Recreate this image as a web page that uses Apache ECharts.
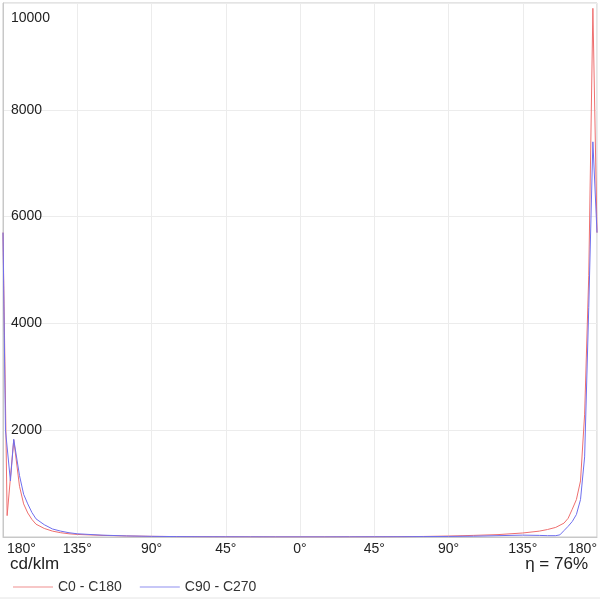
<!DOCTYPE html>
<html>
<head>
<meta charset="utf-8">
<script src="https://cdn.jsdelivr.net/npm/echarts@6/dist/echarts.min.js"></script>
<style>
  html, body { margin: 0; padding: 0; background: #fff; }
  #main { width: 600px; height: 600px; }
</style>
</head>
<body>
<div id="main"></div>
<script>
// angles (gamma, deg) and intensities (cd/klm)
const redAngles = [-180, -177.5, -173.5, -170, -167.5, -165, -162.5, -160, -155, -150, -145, -140, -135, -120, -105, -90, -75, -60, -45, -30, -15, 0, 15, 30, 45, 60, 75, 90, 105, 120, 135, 145, 150, 155, 160, 162.5, 165, 167.5, 170, 172.5, 175, 177.5, 180];
const redValues = [5700, 400, 1820, 950, 620, 450, 330, 240, 160, 110, 80, 60, 48, 30, 20, 12, 8, 5, 4, 3, 2, 2, 2, 3, 4, 6, 10, 18, 30, 45, 75, 110, 140, 180, 260, 350, 520, 700, 1050, 2300, 4900, 9900, 5700];

const blueAngles = [-180, -178.5, -175.5, -173.5, -170, -167.5, -165, -162.5, -160, -155, -150, -145, -140, -135, -120, -105, -90, -75, -60, -45, -30, -15, 0, 15, 30, 45, 60, 75, 90, 105, 120, 135, 145, 150, 155, 157.5, 160, 162.5, 165, 167.5, 170, 172.5, 175, 177.5, 180];
const blueValues = [5700, 2000, 1050, 1830, 1150, 800, 620, 460, 340, 230, 150, 110, 80, 60, 35, 20, 12, 8, 5, 4, 3, 2, 2, 2, 3, 4, 5, 8, 10, 15, 25, 35, 30, 25, 25, 40, 120, 200, 290, 420, 700, 1500, 4300, 7400, 5700];

const seriesNames = ['C0 - C180', 'C90 - C270'];
const xTicks = [-180, -135, -90, -45, 0, 45, 90, 135, 180];
const yTicks = [0, 2000, 4000, 6000, 8000, 10000];

const font = '"Liberation Sans", Arial, sans-serif';
const zip = (a, b) => a.map((x, i) => [x, b[i]]);

let myChart = echarts.init(document.getElementById('main'));
myChart.setOption({
  animation: false,
  grid: {
    left: 3,
    right: 3,
    top: 3,
    bottom: 63,
    show: true,
    borderColor: '#c8c8c8',
    borderWidth: 1
  },
  legend: {
    left: 8,
    top: 575,
    icon: 'rect',
    itemWidth: 40,
    itemHeight: 1,
    itemGap: 18,
    textStyle: { fontFamily: font, fontSize: 14, color: '#333' },
    data: seriesNames
  },
  graphic: [
    { type: 'text', left: 10, top: 556, style: { text: 'cd/klm', font: '17px ' + font, fill: '#222' } },
    { type: 'text', right: 12, top: 556, style: { text: 'η = 76%', font: '17px ' + font, fill: '#222' } },
    { type: 'line', shape: { x1: 0, y1: 598, x2: 600, y2: 598 }, style: { stroke: '#e4e4e4', lineWidth: 1 } }
  ],
  xAxis: {
    type: 'value',
    min: xTicks[0],
    max: xTicks[xTicks.length - 1],
    interval: 45,
    axisLine: { show: true, onZero: false, lineStyle: { color: '#c8c8c8' } },
    axisTick: { show: false },
    splitLine: { show: true, lineStyle: { color: '#ececec' } },
    axisLabel: {
      margin: 5,
      fontFamily: font,
      fontSize: 14,
      color: '#222',
      alignMinLabel: 'left',
      alignMaxLabel: 'right',
      formatter: v => (v === -180 ? ' ' : '') + Math.abs(v) + '°'
    }
  },
  yAxis: {
    type: 'value',
    min: yTicks[0],
    max: yTicks[yTicks.length - 1],
    interval: 2000,
    axisLine: { show: true, onZero: false, lineStyle: { color: '#c8c8c8' } },
    axisTick: { show: false },
    splitLine: { show: true, lineStyle: { color: '#ececec' } },
    axisLabel: {
      inside: true,
      margin: 8,
      showMinLabel: false,
      fontFamily: font,
      fontSize: 14,
      color: '#222',
      formatter: v => v === 10000 ? '{t|10000}' : String(v),
      rich: { t: { fontFamily: font, fontSize: 14, color: '#222', padding: [30, 0, 0, 0] } }
    }
  },
  series: [
    {
      name: seriesNames[0],
      type: 'line',
      symbol: 'none',
      data: zip(redAngles, redValues),
      lineStyle: { color: '#ee6f6f', width: 1 },
      itemStyle: { color: '#f09090' }
    },
    {
      name: seriesNames[1],
      type: 'line',
      symbol: 'none',
      data: zip(blueAngles, blueValues),
      lineStyle: { color: '#6f6fee', width: 1 },
      itemStyle: { color: '#9090f0' }
    }
  ]
});
</script>
</body>
</html>
